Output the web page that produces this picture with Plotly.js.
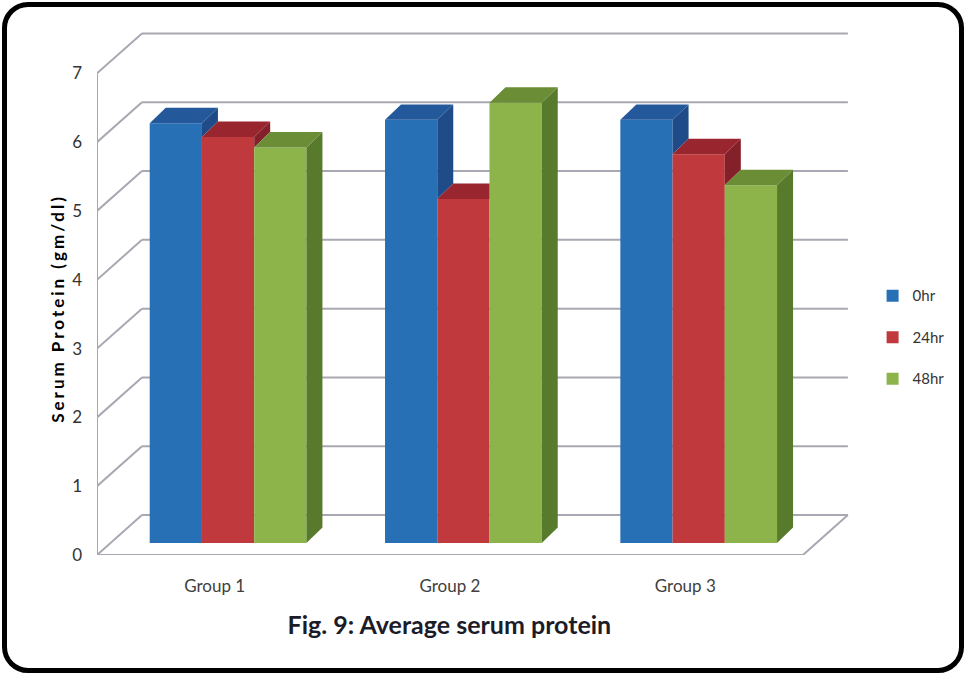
<!DOCTYPE html>
<html>
<head>
<meta charset="utf-8">
<script src="https://cdn.plot.ly/plotly-3.0.1.min.js"></script>
<style>
  html, body { margin: 0; padding: 0; background: #ffffff; }
  #chart { position: absolute; left: 0; top: 0; width: 966px; height: 675px; }
  #chart .annotation-text { letter-spacing: 3px; }
  #frame {
    position: absolute; left: 2px; top: 2px; width: 962px; height: 671px;
    box-sizing: border-box; border: 5px solid #000; border-radius: 26px;
    pointer-events: none;
  }
</style>
</head>
<body>
<div id="chart"></div>
<div id="frame"></div>
<script>
// ---- data ----
const groups = ['Group 1', 'Group 2', 'Group 3'];
const seriesNames = ['0hr', '24hr', '48hr'];
const hr0  = [6.10, 6.15, 6.15];
const hr24 = [5.90, 5.00, 5.65];
const hr48 = [5.75, 6.40, 5.20];
const yTicks = [0, 1, 2, 3, 4, 5, 6, 7];
const yTitle = 'Serum Protein (gm/dl)';

// ---- styling ----
const frontColors = ['#2870b6', '#c0393c', '#8cb44b'];
const topColors   = ['#23599a', '#99252f', '#6a8d36'];
const sideColors  = ['#1f4c88', '#84202a', '#587a2c'];
const gridColor = '#a8a8b2';
const FONT = 'Lato, "Open Sans", sans-serif';

// ---- pseudo-3D geometry (axis units) ----
const X_MAX = 3.2, Y_MAX = 7.63;
const wallDx = 0.191, wallDy = 0.58;     // floor depth: front edge -> back wall
const faceDx = 0.057, faceDy = 0.174;    // bars' front faces sit part way into the floor
const barDx = 0.068, barDy = 0.225;      // depth of each column
const barW = 0.222;

const series = [hr0, hr24, hr48];

function poly(pts) {
  return 'M' + pts.map(p => p[0].toFixed(4) + ',' + p[1].toFixed(4)).join(' L') + ' Z';
}

// bar traces: front faces
const traces = series.map((vals, k) => ({
  type: 'bar',
  name: seriesNames[k],
  legendgroup: seriesNames[k],
  x: groups.map((g, i) => i + 0.5 + faceDx + (k - 1) * barW),
  y: vals,
  base: vals.map(() => faceDy),
  width: vals.map(() => barW),
  marker: { color: frontColors[k], line: { width: 0 } },
  hovertext: groups.map((g, i) => g + ': ' + vals[i]),
  hoverinfo: 'text+name'
}));

const shapes = [];
const gridLine = { color: gridColor, width: 2 };

// back-wall gridlines with the diagonal returns to the front axis
yTicks.forEach(v => {
  shapes.push({ type: 'line', layer: 'below', xref: 'x', yref: 'y',
    x0: wallDx, y0: v + wallDy, x1: groups.length + wallDx, y1: v + wallDy, line: gridLine });
  shapes.push({ type: 'line', layer: 'below', xref: 'x', yref: 'y',
    x0: 0, y0: v, x1: wallDx, y1: v + wallDy, line: gridLine });
});
// front vertical axis, front floor edge and right floor edge
shapes.push({ type: 'line', layer: 'below', xref: 'x', yref: 'y',
  x0: 0, y0: 0, x1: 0, y1: yTicks[yTicks.length - 1], line: gridLine });
shapes.push({ type: 'line', layer: 'below', xref: 'x', yref: 'y',
  x0: 0, y0: 0, x1: groups.length, y1: 0, line: gridLine });
shapes.push({ type: 'line', layer: 'below', xref: 'x', yref: 'y',
  x0: groups.length, y0: 0, x1: groups.length + wallDx, y1: wallDy, line: gridLine });

// top and side faces, hidden parts removed where the next column covers them
const slope = barDy / barDx;
groups.forEach((g, i) => {
  series.forEach((vals, k) => {
    const v = vals[i];
    const xc = i + 0.5 + faceDx + (k - 1) * barW;
    const xL = xc - barW / 2, xR = xc + barW / 2;
    const top = faceDy + v;
    const nv = k < series.length - 1 ? series[k + 1][i] : null;
    const nTop = nv === null ? null : faceDy + nv;

    // side face (right)
    if (nv === null || nv < v) {
      const lo = nv === null ? faceDy : nTop;
      shapes.push({ type: 'path', layer: 'above', xref: 'x', yref: 'y',
        path: poly([[xR, lo], [xR, top], [xR + barDx, top + barDy], [xR + barDx, lo + barDy]]),
        fillcolor: sideColors[k], line: { width: 0 } });
    }

    // top face
    let pts;
    if (nv === null || nTop <= top) {
      pts = [[xL, top], [xR, top], [xR + barDx, top + barDy], [xL + barDx, top + barDy]];
    } else if (nTop >= top + barDy) {
      pts = [[xL, top], [xR, top], [xR, top + barDy], [xL + barDx, top + barDy]];
    } else {
      const xi = xR + (top + barDy - nTop) / slope;
      pts = [[xL, top], [xR, top], [xR, nTop], [xi, top + barDy], [xL + barDx, top + barDy]];
    }
    shapes.push({ type: 'path', layer: 'above', xref: 'x', yref: 'y',
      path: poly(pts), fillcolor: topColors[k], line: { width: 0 } });
  });
});

const layout = {
  width: 966, height: 675,
  margin: { l: 97, r: 116, t: 30, b: 120 },
  paper_bgcolor: 'rgba(0,0,0,0)',
  plot_bgcolor: 'rgba(0,0,0,0)',
  barmode: 'overlay',
  showlegend: true,
  font: { family: FONT, color: '#404040' },
  title: {
    text: 'Fig. 9: Average serum protein',
    font: { family: FONT, size: 25, weight: 700, color: '#1c1c28' },
    xref: 'paper', x: 0.468, xanchor: 'center',
    yref: 'container', y: 0.074, yanchor: 'middle'
  },
  xaxis: {
    range: [0, X_MAX], showgrid: false, zeroline: false, showline: false,
    tickvals: groups.map((g, i) => i + 0.5), ticktext: groups,
    ticks: '', ticklabelstandoff: 19,
    tickfont: { family: FONT, size: 17, color: '#404040' },
    fixedrange: true
  },
  yaxis: {
    range: [0, Y_MAX], showgrid: false, zeroline: false, showline: false,
    tickvals: yTicks, ticktext: yTicks.map(String),
    ticks: '', ticklabelstandoff: 14,
    tickfont: { family: FONT, size: 17, color: '#333333' },
    fixedrange: true
  },
  annotations: [{
    text: yTitle, textangle: -90, showarrow: false,
    xref: 'paper', x: -0.053, xanchor: 'center',
    yref: 'paper', y: 0.47, yanchor: 'middle',
    font: { family: FONT, size: 17, weight: 700, color: '#000000' }
  }],
  legend: {
    x: 1.03, xanchor: 'left', y: 0.525, yanchor: 'top',
    font: { family: FONT, size: 15, color: '#333333' },
    tracegroupgap: 19, itemwidth: 30, bgcolor: 'rgba(0,0,0,0)'
  },
  shapes: shapes
};

Plotly.newPlot('chart', traces, layout, { displayModeBar: false, staticPlot: true });
</script>
</body>
</html>
